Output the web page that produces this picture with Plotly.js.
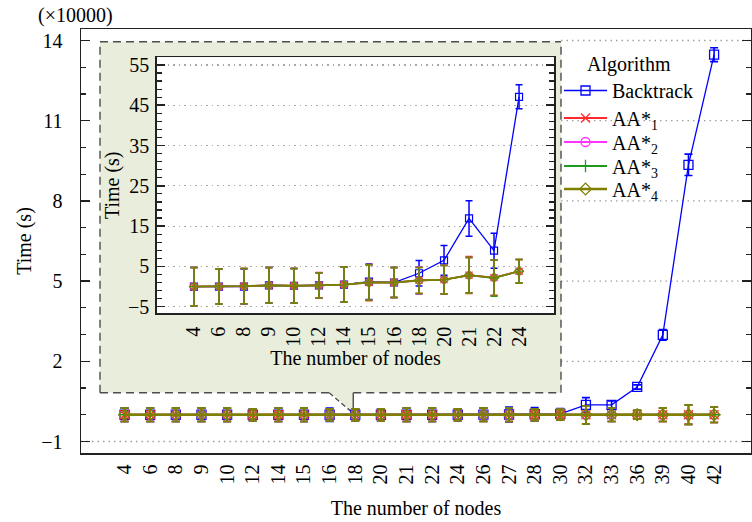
<!DOCTYPE html>
<html><head><meta charset="utf-8">
<script src="https://cdn.plot.ly/plotly-3.0.1.min.js"></script>
<style>html,body{margin:0;padding:0;background:#fff}</style>
</head><body><div id="chart" style="width:752px;height:522px"></div>
<script>
// ---------- data ----------
const nodes = ['4','6','8','9','10','12','14','15','16','18','20','21','22','24','26','27','28','30','32','33','36','39','40','42'];
// main chart values, in units of 10000 s
const backtrackMain    = [0,0,0,0,0,0,0,0,0,0,0,0,0,0,0.005,0.01,0.02,0.03,0.37,0.37,1.04,2.99,9.35,13.47];
const backtrackMainErr = [0.25,0.25,0.25,0.25,0.25,0.22,0.25,0.25,0.25,0.22,0.22,0.25,0.25,0.22,0.25,0.28,0.25,0.2,0.27,0.15,0.08,0.2,0.4,0.26];
const aa1Main    = [0,0,0,0,0,0,0,0,0,0,0,0,0,0,0,0,0,0,0,0,0,0,0,0];
const aa1MainErr = [0.25,0.25,0.25,0.25,0.25,0.22,0.25,0.25,0.22,0.22,0.22,0.25,0.25,0.22,0.25,0.25,0.22,0.2,0.34,0.25,0.17,0.25,0.36,0.29];
const aa2Main    = [0,0,0,0,0,0,0,0,0,0,0,0,0,0,0,0,0,0,0,0,0,0,0,0];
const aa2MainErr = [0.25,0.25,0.25,0.25,0.25,0.22,0.25,0.25,0.22,0.22,0.22,0.25,0.25,0.22,0.25,0.25,0.22,0.2,0.34,0.25,0.17,0.25,0.36,0.29];
const aa3Main    = [0,0,0,0,0,0,0,0,0,0,0,0,0,0,0,0,0,0,0,0,0,0,0,0];
const aa3MainErr = [0.25,0.25,0.25,0.25,0.25,0.22,0.25,0.25,0.22,0.22,0.22,0.25,0.25,0.22,0.25,0.25,0.22,0.2,0.34,0.25,0.17,0.25,0.36,0.29];
const aa4Main    = [0,0,0,0,0,0,0,0,0,0,0,0,0,0,0,0,0,0,0,0,0,0,0,0];
const aa4MainErr = [0.25,0.25,0.25,0.25,0.25,0.22,0.25,0.25,0.22,0.22,0.22,0.25,0.25,0.22,0.25,0.25,0.22,0.2,0.34,0.25,0.17,0.25,0.36,0.29];

// inset chart values, in seconds
const insetNodes = ['4','6','8','9','10','12','14','15','16','18','20','21','22','24'];
const backtrackInset    = [0.0,0.0,0.0,0.3,0.2,0.3,0.5,1.2,1.0,3.3,6.5,16.9,8.9,47.1];
const backtrackInsetErr = [4.75,4.35,4.35,4.4,4.3,3.1,4.35,4.4,3.7,3.15,3.7,4.4,4.35,3.0];
const aa1Inset    = [0.0,0.0,0.1,0.3,0.2,0.3,0.5,1.0,1.0,1.6,1.7,2.85,2.2,3.8];
const aa1InsetErr = [4.75,4.35,4.35,4.4,4.3,3.2,4.35,4.5,3.7,3.3,3.6,4.6,4.4,2.9];
const aa2Inset    = [0.0,0.0,0.1,0.3,0.2,0.3,0.5,1.0,1.0,1.5,1.7,2.8,2.2,3.8];
const aa2InsetErr = [4.75,4.35,4.35,4.4,4.3,3.1,4.35,4.4,3.7,3.4,3.5,4.4,4.4,2.9];
const aa3Inset    = [0.0,0.0,0.1,0.3,0.2,0.3,0.5,1.0,1.0,1.5,1.7,2.8,2.1,3.8];
const aa3InsetErr = [4.75,4.35,4.35,4.4,4.3,3.1,4.35,4.4,3.7,3.2,3.5,4.4,4.5,2.9];
const aa4Inset    = [0.0,0.0,0.1,0.3,0.2,0.3,0.5,1.0,1.0,1.5,1.7,2.8,2.2,3.8];
const aa4InsetErr = [4.75,4.35,4.35,4.4,4.3,3.1,4.35,4.4,3.7,3.2,3.5,4.4,4.4,2.9];

const seriesNames = ['Backtrack','AA*<sub>1</sub>','AA*<sub>2</sub>','AA*<sub>3</sub>','AA*<sub>4</sub>'];
const mainTickVals = [-1,2,5,8,11,14];
const insetTickVals = [-5,5,15,25,35,45,55];

// ---------- styling ----------
const FONT = 'Liberation Serif, Times New Roman, serif';
const colors  = ['#0000ff','#ff2a2a','#ff33ff','#1f9a1f','#808000'];
const symbols = ['square-open','x-thin-open','circle-open','cross-thin-open','diamond-open'];
const widthsMain = [1.3,2.2,2.2,2.2,2.6];
const widthsInset = [1.3,1.6,1.6,1.6,1.8];
const legendIds = ['legend','legend2','legend3','legend4','legend5'];

const mainY = [backtrackMain,aa1Main,aa2Main,aa3Main,aa4Main];
const mainE = [backtrackMainErr,aa1MainErr,aa2MainErr,aa3MainErr,aa4MainErr];
const insY = [backtrackInset,aa1Inset,aa2Inset,aa3Inset,aa4Inset];
const insE = [backtrackInsetErr,aa1InsetErr,aa2InsetErr,aa3InsetErr,aa4InsetErr];

const traces = [];
for (let i = 0; i < 5; i++) {
  traces.push({
    type:'scatter', mode:'lines+markers', name: seriesNames[i],
    x: nodes, y: mainY[i], xaxis:'x', yaxis:'y', legend: legendIds[i],
    line:{color:colors[i], width:widthsMain[i]},
    marker:{symbol:symbols[i], size:9, color:colors[i], line:{color:colors[i], width:1.3}},
    error_y:{type:'data', array:mainE[i], visible:true, color:colors[i], thickness:1.6, width:4},
    hoverinfo:'skip', cliponaxis:false
  });
}
for (let i = 0; i < 5; i++) {
  traces.push({
    type:'scatter', mode:'lines+markers', name: seriesNames[i], showlegend:false,
    x: insetNodes, y: insY[i], xaxis:'x2', yaxis:'y2',
    line:{color:colors[i], width:widthsInset[i]},
    marker:{symbol:symbols[i], size:7, color:colors[i], line:{color:colors[i], width:1.2}},
    error_y:{type:'data', array:insE[i], visible:true, color:colors[i], thickness:1.5, width:3.5},
    hoverinfo:'skip'
  });
}

// geometry
const W = 752, H = 522, ML = 81, MR = 1, MT = 29, MB = 69;
const PW = W - ML - MR, PH = H - MT - MB;
const px = v => (v - ML) / PW;          // pixel x -> paper
const py = v => (H - MB - v) / PH;      // pixel y -> paper
const xRange = [-1.70, 24.44], yRange = [-1.43, 14.43];

const box = {x0:px(100), x1:px(561), y0:py(392.8), y1:py(41.7)};
// callout tip: the AA*4 point at 18 nodes on the main axes
const tipIdx = nodes.indexOf('18');
const tipX = (tipIdx - xRange[0]) / (xRange[1] - xRange[0]) - px(83);
const tipY = (aa4Main[tipIdx] - yRange[0]) / (yRange[1] - yRange[0]) + 1.5/PH;
const baseL = tipX - 24/PW, baseR = tipX;

const GREEN = '#e8eedb';
const DASHC = '#4d4d4d';
const dash = '8px,5px';
const shapes = [];
// main gridlines (dotted), hidden behind the inset box
mainTickVals.forEach(v => {
  shapes.push({type:'line', layer:'below', xref:'paper', yref:'y',
    x0: v === -1 ? 0 : box.x1, x1:1, y0:v, y1:v,
    line:{color:'#a0a0a0', width:1.3, dash:'1.5px,4px'}});
});
shapes.push({type:'rect', layer:'below', xref:'paper', yref:'paper',
  x0:box.x0, x1:box.x1, y0:box.y0, y1:box.y1, fillcolor:GREEN, line:{width:0}});
shapes.push({type:'path', layer:'below', xref:'paper', yref:'paper',
  path:`M${baseL},${box.y0+0.004} L${tipX},${tipY} L${baseR},${box.y0+0.004} Z`,
  fillcolor:GREEN, line:{width:0}});
const seg = (x0,y0,x1,y1,d) => shapes.push({type:'line', layer:'below', xref:'paper', yref:'paper',
  x0:x0, y0:y0, x1:x1, y1:y1, line:{color:DASHC, width:1.4, dash:d}});
seg(box.x0, box.y1, box.x1, box.y1, dash);
seg(box.x0, box.y0, box.x0, box.y1, dash);
seg(box.x1, box.y0, box.x1, box.y1, dash);
seg(box.x0, box.y0, baseL, box.y0, dash);
seg(baseR, box.y0, box.x1, box.y0, dash);
seg(baseL, box.y0, tipX, tipY, '5px,3px');
seg(baseR, box.y0, tipX, tipY, 'solid');

const tickFont = {family:FONT, size:20, color:'#000'};
const legendBase = {x:px(559), xanchor:'left', bgcolor:'rgba(0,0,0,0)', borderwidth:0,
  font:{family:FONT, size:20, color:'#000'}, itemwidth:43, itemclick:false, itemdoubleclick:false};
const legendYs = [93.5,118,142,166,189];

const layout = {
  width:W, height:H, margin:{l:ML, r:MR, t:MT, b:MB},
  paper_bgcolor:'#ffffff', plot_bgcolor:'#ffffff',
  font:{family:FONT, size:20, color:'#000'},
  showlegend:true,
  xaxis:{type:'category', categoryorder:'array', categoryarray:nodes, range:xRange,
    domain:[0,1], anchor:'y', showgrid:false, zeroline:false, showline:true, linecolor:'#222', linewidth:1.5,
    mirror:true, ticks:'', tickangle:-90, tickfont:tickFont, ticklabelstandoff:2,
    title:{text:'The number of nodes', font:{family:FONT, size:20}, standoff:17}},
  yaxis:{range:yRange, domain:[0,1], anchor:'x', tickmode:'array', tickvals:mainTickVals,
    showgrid:false, zeroline:false, showline:true, linecolor:'#222', linewidth:1.5, mirror:'allticks',
    ticks:'inside', ticklen:9, tickwidth:1.5, tickcolor:'#222', tickfont:tickFont, ticklabelstandoff:13,
    minor:{tickmode:'linear', tick0:-1, dtick:1, ticks:'inside', ticklen:5, tickwidth:1.2, tickcolor:'#222', showgrid:false},
    title:{text:'Time (s)', font:{family:FONT, size:20}, standoff:4}},
  xaxis2:{type:'category', categoryorder:'array', categoryarray:insetNodes, range:[-1.49,14.41],
    domain:[px(156.7), px(554.3)], anchor:'y2', showgrid:false, zeroline:false, showline:true,
    linecolor:'#222', linewidth:1.5, mirror:true, ticks:'', tickangle:-90, tickfont:tickFont, ticklabelstandoff:4,
    title:{text:'The number of nodes', font:{family:FONT, size:20}, standoff:5}},
  yaxis2:{range:[-6.64,56.9], domain:[py(313.3), py(57.3)], anchor:'x2', tickmode:'array', tickvals:insetTickVals,
    showgrid:true, gridcolor:'#a8a8a0', griddash:'1.5px,4px', gridwidth:1.2, zeroline:false,
    showline:true, linecolor:'#222', linewidth:1.5, mirror:'allticks',
    ticks:'inside', ticklen:8, tickwidth:1.5, tickcolor:'#222', tickfont:tickFont, ticklabelstandoff:2,
    minor:{tickmode:'linear', tick0:-5, dtick:2, ticks:'inside', ticklen:5, tickwidth:1.2, tickcolor:'#222', showgrid:false},
    title:{text:'Time (s)', font:{family:FONT, size:20}, standoff:3}},
  shapes:shapes,
  annotations:[{text:'(×10000)', xref:'paper', yref:'paper', x:px(75), y:py(15),
    xanchor:'center', yanchor:'middle', showarrow:false, font:{family:FONT, size:20, color:'#000'}}],
  legend: Object.assign({}, legendBase, {y:py(45), yanchor:'top',
    title:{text:'Algorithm', side:'top center', font:{family:FONT, size:20, color:'#000'}}}),
  legend2: Object.assign({}, legendBase, {y:py(legendYs[1]), yanchor:'middle'}),
  legend3: Object.assign({}, legendBase, {y:py(legendYs[2]), yanchor:'middle'}),
  legend4: Object.assign({}, legendBase, {y:py(legendYs[3]), yanchor:'middle'}),
  legend5: Object.assign({}, legendBase, {y:py(legendYs[4]), yanchor:'middle'})
};

Plotly.newPlot('chart', traces, layout, {displayModeBar:false, staticPlot:true});
</script></body></html>
